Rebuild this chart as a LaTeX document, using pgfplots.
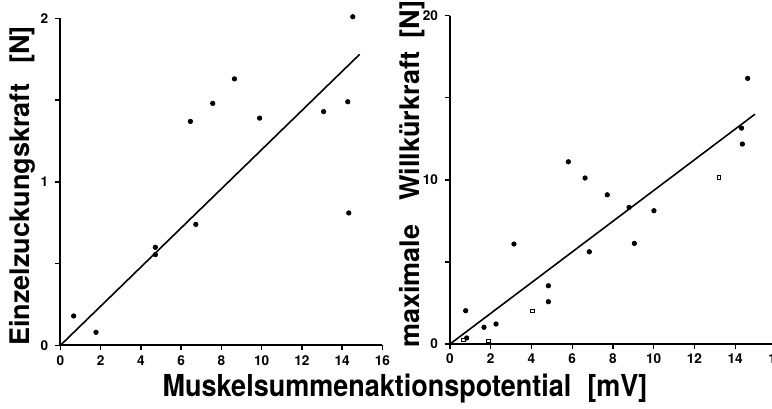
\documentclass[border=0pt]{standalone}
\usepackage{fontspec}
\setmainfont{TeX Gyre Heros}
\usepackage{pgfplots}
\pgfplotsset{compat=1.18}

\pgfplotsset{
  panel/.style={
    scale only axis, clip=false,
    xmin=0, xmax=16, ymin=0,
    axis x line*=bottom, axis y line*=left,
    axis line style={line width=1pt,-},
    xtick={0,2,...,16},
    tick align=outside,
    major tick length=2.5pt, minor tick length=2.5pt,
    tick style={line width=0.7pt, black},
    ticklabel style={font=\bfseries\fontsize{6.8}{7}\selectfont},
    xticklabel style={yshift=1pt},
    /pgf/number format/assume math mode=true,
  },
  dots/.style={only marks, mark=*, mark size=1.1pt, black},
  opens/.style={only marks, mark=square, mark size=0.9pt, mark options={line width=0.4pt}, black},
  fit/.style={no marks, line width=0.8pt, black},
}

\begin{document}
\begin{tikzpicture}[x=1pt,y=1pt]
\useasboundingbox (0,0) rectangle (386,204);

% Einzelzuckungskraft
\begin{axis}[panel, at={(30,38.3)}, anchor=origin,
  width=161pt, height=163.5pt, ymax=2,
  ytick={0,1,2}, minor ytick={0.5,1.5}]
\addplot[dots] coordinates {
  (0.66,0.18) (1.77,0.08) (4.72,0.60) (4.72,0.555) (6.46,1.37)
  (6.73,0.74) (7.57,1.48) (8.65,1.63) (9.90,1.39) (13.08,1.43)
  (14.28,1.49) (14.33,0.81) (14.53,2.01)};
\addplot[fit] coordinates {(0,0) (14.87,1.78)};
\end{axis}

% maximale Willkuerkraft
\begin{axis}[panel, at={(220.85,38.95)}, anchor=origin,
  width=163pt, height=164.2pt, ymax=20,
  ytick={0,10,20}, minor ytick={5,15}]
\addplot[dots] coordinates {
  (0.77,2.03) (0.82,0.37) (1.67,1.02) (2.26,1.22) (3.14,6.09)
  (4.83,3.55) (4.83,2.58) (5.81,11.1) (6.63,10.11) (6.84,5.62)
  (7.72,9.09) (8.79,8.32) (9.05,6.13) (10.01,8.12) (14.31,13.15)
  (14.35,12.18) (14.61,16.18)};
\addplot[opens] coordinates {
  (0.65,0.26) (1.88,0.2) (4.04,2.03) (13.2,10.15)};
\addplot[fit] coordinates {(0,0) (14.97,14.0)};
\end{axis}

\node[rotate=90, anchor=base west, inner sep=0pt,
      font=\bfseries\fontsize{13.5}{14}\selectfont] at (14.5,31)
  {Einzelzuckungskraft\hspace{10pt}[N]};
\node[rotate=90, anchor=base west, inner sep=0pt,
      font=\bfseries\fontsize{13.5}{14}\selectfont] at (209.5,30)
  {maximale\hspace{12pt}Willkürkraft\hspace{6.5pt}[N]};
\node[anchor=base, inner sep=0pt,
      font=\bfseries\fontsize{13.5}{14}\selectfont] at (202.5,6)
  {\scalebox{1}[1.12]{Muskelsummenaktionspotential\hspace{8pt}[mV]}};
\end{tikzpicture}
\end{document}
